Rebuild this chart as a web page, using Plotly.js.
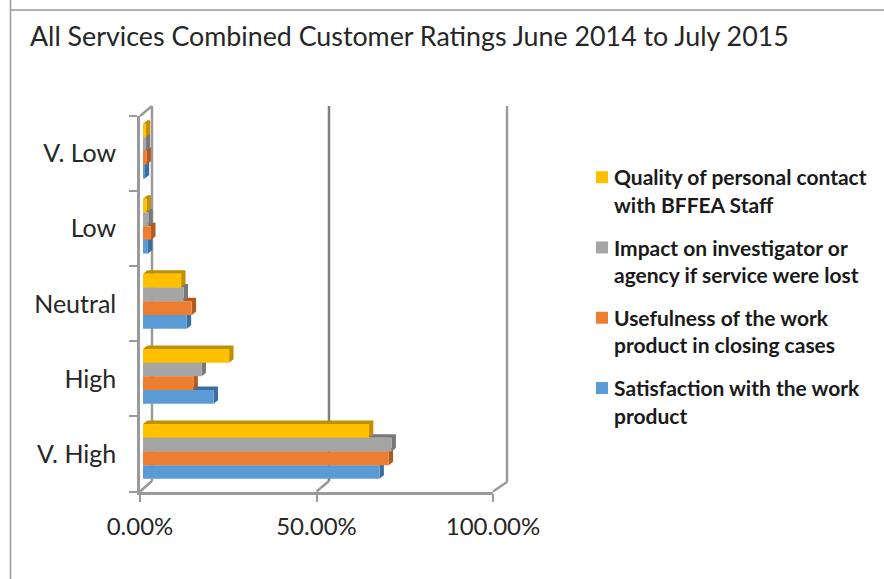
<!DOCTYPE html>
<html><head><meta charset="utf-8">
<script src="https://cdn.plot.ly/plotly-3.0.1.min.js"></script>
<style>html,body{margin:0;padding:0;background:#fff}</style></head>
<body><div id="chart" style="width:884px;height:579px"></div>
<script>
const categories = ['V. High','High','Neutral','Low','V. Low'];
const satisfaction = [67, 20, 12.4, 1.4, 0.5];
const usefulness = [69.6, 14.3, 13.8, 2.3, 1.0];
const impact = [70.4, 16.6, 11.5, 1.5, 0.8];
const quality = [64, 24.4, 10.8, 1.0, 0.8];
const seriesNames = [
  'Satisfaction with the work<br>product',
  'Usefulness of the work<br>product in closing cases',
  'Impact on investigator or<br>agency if service were lost',
  'Quality of personal contact<br>with BFFEA Staff'
];
const seriesValues = [satisfaction, usefulness, impact, quality];
const frontColors = ['#5B9BD5','#ED7D31','#A5A5A5','#FFC000'];
const depthColors = ['#3A6F9F','#AE5A21','#787878','#BF9000'];
const W=884,H=579;
const fx=p=>p/W, fy=p=>1-p/H;
const L=140,R=493,T=116,B=491.5, sx=3, sy=2.5;
const bargap=0.27, depthX=4.4/((R-L)/100), depthY=3.5/((B-T)/5);
const w=(1-bargap)/4;
const faces=[];
seriesValues.forEach((vals,i)=>{
  vals.forEach((v,c)=>{
    const y0=c+(i-2)*w, y1=y0+w;
    faces.push({type:'path',xref:'x2',yref:'y2',layer:'below',line:{width:0},fillcolor:depthColors[i],
      path:`M0,${y1} L${depthX},${y1+depthY} L${v+depthX},${y1+depthY} L${v+depthX},${y0+depthY} L${v},${y0} L${v},${y1} Z`});
  });
});
const grey='#9A9A9A';
const ln=(x0,y0,x1,y1,wd,col)=>({type:'line',xref:'paper',yref:'paper',layer:'below',x0:fx(x0),y0:fy(y0),x1:fx(x1),y1:fy(y1),line:{color:col||grey,width:wd||2}});
const frame=[
  ln(10.5,0,10.5,579,1.5,'#9a9a9a'),
  ln(10,10,884,10,1.5,'#9a9a9a'),
  ln(152,106,152,481,2.5),
  ln(329,106,329,481,2.5,'#7f7f7f'),
  ln(507,106,507,482,2.5),
  ln(140,116,152,106,2.5),
  ln(140,491.5,152,481,2.5),
  ln(316.5,491.5,329,481,2.5),
  ln(493,491.5,507,482,2.5)
];
const traces=seriesValues.map((vals,i)=>({
  type:'bar',orientation:'h',name:seriesNames[i],x:vals,y:categories,xaxis:'x2',yaxis:'y2',
  marker:{color:frontColors[i],line:{width:0}},legendgroup:'g'+i,legendrank:10-i,hoverinfo:'x+y'
}));
traces.unshift({type:'bar',orientation:'h',x:categories.map(()=>0),y:categories,xaxis:'x',yaxis:'y',showlegend:false,hoverinfo:'skip',marker:{opacity:0}});
const font='Lato, "Open Sans", sans-serif';
const ink='#262626';
const layout={
  width:W,height:H,margin:{l:0,r:0,t:0,b:0},paper_bgcolor:'#fff',plot_bgcolor:'rgba(0,0,0,0)',
  font:{family:font,color:ink},barmode:'group',bargap:bargap,bargroupgap:0,
  title:{text:'All Services Combined Customer Ratings June 2014 to July 2015',x:30/W,xanchor:'left',xref:'paper',y:1-37/H,yanchor:'middle',font:{family:font,size:26.8,color:ink}},
  xaxis:{domain:[fx(L),fx(R)],range:[0,100],tickvals:[0,50,100],ticktext:['0.00%','50.00%','100.00%'],ticks:'outside',ticklen:8,tickwidth:1.5,tickcolor:grey,showline:true,linecolor:grey,linewidth:2.5,showgrid:false,zeroline:false,tickfont:{size:24,color:ink,family:font},ticklabelstandoff:4,anchor:'y',fixedrange:true},
  yaxis:{domain:[fy(B),fy(T)],type:'category',categoryarray:categories,range:[-0.5,4.5],tickson:'boundaries',ticks:'outside',ticklen:8,tickwidth:1.5,tickcolor:grey,showline:true,linecolor:grey,linewidth:2.5,showgrid:false,zeroline:false,tickfont:{size:25,color:ink,family:font},ticklabelstandoff:16,anchor:'x',fixedrange:true},
  xaxis2:{domain:[fx(L+sx),fx(R+sx)],range:[0,100],visible:false,anchor:'y2',fixedrange:true},
  yaxis2:{domain:[fy(B-sy),fy(T-sy)],type:'category',categoryarray:categories,range:[-0.5,4.5],visible:false,anchor:'x2',fixedrange:true},
  showlegend:true,
  legend:{x:fx(574),xanchor:'left',y:fy(157),yanchor:'top',traceorder:'grouped',tracegroupgap:12.7,valign:'top',font:{family:font,size:21,weight:700,color:'#1a1a1a'},bgcolor:'rgba(0,0,0,0)',itemclick:false,itemdoubleclick:false},
  shapes:frame.concat(faces)
};
Plotly.newPlot('chart',traces,layout,{displayModeBar:false,responsive:false}).then(()=>{
  document.querySelectorAll('.legend .legendpoints').forEach(g=>g.setAttribute('transform','translate(8,0)'));
});
</script></body></html>
